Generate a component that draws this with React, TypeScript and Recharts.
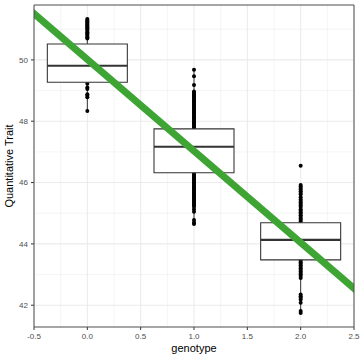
import React from 'react';
import {
  ComposedChart,
  XAxis,
  YAxis,
  CartesianGrid,
  Scatter,
  Line,
  ReferenceArea,
  ReferenceLine,
} from 'recharts';

// ---- Data ----
const genotypes = [0, 1, 2];
const q1Values = [49.27, 46.32, 43.48];
const medianValues = [49.81, 47.17, 44.13];
const q3Values = [50.52, 47.75, 44.69];
const whiskerLow = [48.32, 44.65, 41.75];
const whiskerHigh = [51.33, 49.68, 45.92];
const boxHalfWidth = 0.375;

// visible trait values (outside the boxes) per genotype
const traitG0 = [
  51.33, 51.3, 51.27, 51.24, 51.21, 51.18, 51.15, 51.11, 51.08, 51.05, 51.02,
  50.98, 50.94, 50.9, 50.86, 50.82, 50.78, 50.74, 50.7,
  49.22, 49.1, 49.05, 48.88, 48.83, 48.78, 48.33,
];
const traitG1 = [
  49.68, 49.47, 49.18,
  48.97, 48.93, 48.89, 48.85, 48.81, 48.77, 48.73, 48.69, 48.65, 48.61, 48.57,
  48.53, 48.49, 48.45, 48.41, 48.37, 48.33, 48.29, 48.25, 48.21, 48.17, 48.13,
  48.09, 48.05, 48.01, 47.97, 47.93, 47.89, 47.85, 47.81, 47.78,
  46.29, 46.25, 46.21, 46.17, 46.13, 46.09, 46.05, 46.01, 45.97, 45.93, 45.89,
  45.85, 45.81, 45.77, 45.73, 45.69, 45.65, 45.61, 45.57, 45.53, 45.49, 45.45,
  45.41, 45.37, 45.33, 45.29, 45.25, 45.21,
  45.13, 45.05, 44.78, 44.7, 44.65,
];
const traitG2 = [
  46.55,
  45.92, 45.87, 45.82, 45.77, 45.72, 45.66, 45.61, 45.52, 45.45, 45.4, 45.35,
  45.3, 45.25, 45.2, 45.13, 45.08, 45.03, 44.98, 44.93, 44.88, 44.83, 44.78,
  44.73,
  43.45, 43.4, 43.35, 43.3, 43.25, 43.2, 43.15, 43.1, 43.05, 43.0, 42.95, 42.89,
  42.35, 42.29, 42.24, 42.19, 42.08, 41.81, 41.75,
];

// regression line (read at both ends, extended past the panel and clipped)
const fitX = [-0.6, 2.6];
const fitY = [51.81, 42.25];

const xTicks = [-0.5, 0, 0.5, 1, 1.5, 2, 2.5];
const xMinor = [-0.25, 0.25, 0.75, 1.25, 1.75, 2.25];
const yTicks = [42, 44, 46, 48, 50];
const yMinor = [43, 45, 47, 49, 51];
const xDomain: [number, number] = [-0.5, 2.5];
const yDomain: [number, number] = [41.29, 51.79];

// ---- tables built from the arrays ----
const traitsByGenotype = [traitG0, traitG1, traitG2];
const pointData = genotypes.flatMap((g, i) =>
  traitsByGenotype[i].map((v) => ({ x: g, y: v }))
);
const fitData = fitX.map((x, i) => ({ x, y: fitY[i] }));

const FONT = '"Liberation Sans", Arial, Helvetica, sans-serif';
const tickStyle = { fill: '#4D4D4D', fontSize: 8, fontFamily: FONT };

const Dot = (p: any) => <circle cx={p.cx} cy={p.cy} r={2} fill="#000000" />;

export default function App() {
  return (
    <div style={{ position: 'absolute', left: 0, top: 0, width: 360, height: 360, background: '#fff' }}>
      <ComposedChart
        width={360}
        height={360}
        margin={{ top: 5, right: 6, bottom: 0, left: 0 }}
        style={{ fontFamily: FONT }}
      >
        <CartesianGrid
          stroke="#EBEBEB"
          strokeWidth={0.55}
          verticalValues={xMinor}
          horizontalValues={yMinor}
        />
        <CartesianGrid
          stroke="#EBEBEB"
          strokeWidth={1.07}
          verticalValues={xTicks}
          horizontalValues={yTicks}
        />
        <XAxis
          type="number"
          dataKey="x"
          domain={xDomain}
          ticks={xTicks}
          allowDataOverflow
          height={33}
          tickSize={3}
          tickMargin={3}
          axisLine={false}
          tickLine={{ stroke: '#333333' }}
          tick={tickStyle}
          tickFormatter={(v: number) => v.toFixed(1)}
          label={{
            value: 'genotype',
            position: 'insideBottom',
            offset: 8,
            fill: '#000000',
            fontSize: 11,
            fontFamily: FONT,
          }}
        />
        <YAxis
          type="number"
          domain={yDomain}
          ticks={yTicks}
          allowDataOverflow
          width={34}
          tickSize={3}
          tickMargin={3}
          axisLine={false}
          tickLine={{ stroke: '#333333' }}
          tick={tickStyle}
          label={{
            value: 'Quantitative Trait',
            angle: -90,
            position: 'insideLeft',
            offset: 9,
            fill: '#000000',
            fontSize: 11,
            fontFamily: FONT,
            style: { textAnchor: 'middle' },
          }}
        />
        {genotypes.map((g, i) => (
          <ReferenceLine
            key={'wu' + g}
            segment={[
              { x: g, y: q3Values[i] },
              { x: g, y: whiskerHigh[i] },
            ]}
            stroke="#333333"
            strokeWidth={1}
            zIndex={200}
          />
        ))}
        {genotypes.map((g, i) => (
          <ReferenceLine
            key={'wl' + g}
            segment={[
              { x: g, y: whiskerLow[i] },
              { x: g, y: q1Values[i] },
            ]}
            stroke="#333333"
            strokeWidth={1}
            zIndex={200}
          />
        ))}
        <Scatter
          data={pointData}
          dataKey="y"
          shape={Dot}
          isAnimationActive={false}
          zIndex={250}
        />
        {genotypes.map((g, i) => (
          <ReferenceArea
            key={'box' + g}
            x1={g - boxHalfWidth}
            x2={g + boxHalfWidth}
            y1={q1Values[i]}
            y2={q3Values[i]}
            fill="#FFFFFF"
            fillOpacity={1}
            stroke="#333333"
            strokeWidth={1.07}
            zIndex={300}
          />
        ))}
        {genotypes.map((g, i) => (
          <ReferenceLine
            key={'med' + g}
            segment={[
              { x: g - boxHalfWidth, y: medianValues[i] },
              { x: g + boxHalfWidth, y: medianValues[i] },
            ]}
            stroke="#333333"
            strokeWidth={2.1}
            zIndex={350}
          />
        ))}
        <Line
          data={fitData}
          dataKey="y"
          stroke="#3EA535"
          strokeWidth={7}
          dot={false}
          activeDot={false}
          isAnimationActive={false}
          zIndex={400}
        />
        <ReferenceArea
          x1={xDomain[0]}
          x2={xDomain[1]}
          y1={yDomain[0]}
          y2={yDomain[1]}
          fill="none"
          stroke="#4D4D4D"
          strokeWidth={1}
          zIndex={500}
        />
      </ComposedChart>
    </div>
  );
}
